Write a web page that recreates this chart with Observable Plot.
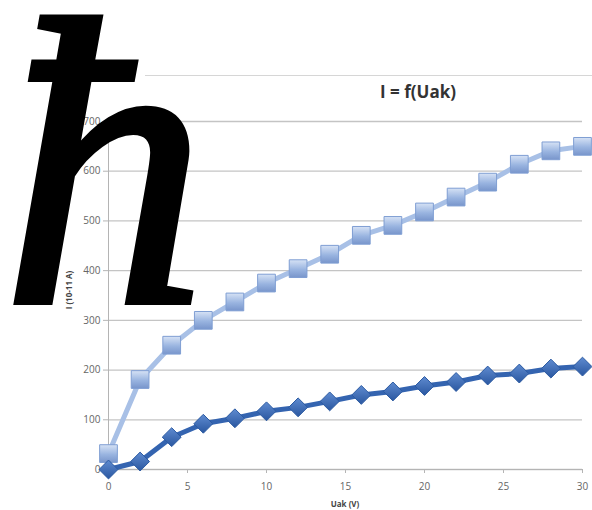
<!DOCTYPE html>
<html><head><meta charset="utf-8">
<script src="https://cdn.jsdelivr.net/npm/d3@7"></script>
<script src="https://cdn.jsdelivr.net/npm/@observablehq/plot@0.6"></script>
<style>
body{margin:0;background:#fff;}
#wrap{position:relative;width:592px;height:510px;overflow:hidden;font-family:"Open Sans",sans-serif;}
#border{position:absolute;left:145px;top:75px;width:447px;height:0;border-top:1px solid #d6d6d6;}
#title{position:absolute;left:338px;width:160px;top:80px;text-align:center;font:bold 17px "Open Sans",sans-serif;color:#333;}
#ylab{position:absolute;left:68px;top:290px;transform:translate(-50%,-50%) rotate(-90deg);white-space:nowrap;font:bold 8px "Open Sans",sans-serif;color:#444;}
#xlab{position:absolute;left:345px;top:503px;transform:translate(-50%,-50%);white-space:nowrap;font:bold 8px "Open Sans",sans-serif;color:#444;}
#hbar{position:absolute;left:2px;top:-41px;font:italic 410px/1 "Liberation Serif",serif;color:#000;-webkit-text-stroke:6px #000;z-index:5;}
#chart{position:absolute;left:0;top:0;}
</style></head><body>
<div id="wrap">
  <div id="border"></div>
  <div id="chart"></div>
  <div id="title">I = f(Uak)</div>
  <div id="ylab">I (10-11 A)</div>
  <div id="xlab">Uak (V)</div>
  <div id="hbar">ħ</div>
</div>
<script>
const voltages = [0, 2, 4, 6, 8, 10, 12, 14, 16, 18, 20, 22, 24, 26, 28, 30];
const currentUpper = [32, 181, 250, 300, 337, 375, 404, 433, 471, 491, 518, 548, 578, 614, 641, 650];
const currentLower = [0, 16, 65, 92, 103, 117, 125, 137, 150, 157, 168, 176, 189, 193, 203, 207];
const xTicks = [0, 5, 10, 15, 20, 25, 30];
const yTicks = [0, 100, 200, 300, 400, 500, 600, 700];

const upper = voltages.map((v, i) => ({u: v, i: currentUpper[i]}));
const lower = voltages.map((v, i) => ({u: v, i: currentLower[i]}));

const plot = Plot.plot({
  width: 592,
  height: 510,
  marginLeft: 108,
  marginRight: 10,
  marginTop: 121,
  marginBottom: 41,
  style: {fontFamily: "'Open Sans', sans-serif", fontSize: "10px", color: "#666", background: "transparent"},
  x: {domain: [0, 30], ticks: xTicks, tickSize: 4, tickPadding: 9, label: null},
  y: {domain: [0, 700], ticks: yTicks, tickSize: 5, tickPadding: 3, label: null},
  marks: [
    Plot.gridY(yTicks, {stroke: "#c4c4c4", strokeOpacity: 1, strokeWidth: 1.3}),
    Plot.ruleX([0], {stroke: "#b4b4b4"}),
    Plot.ruleY([0], {stroke: "#b4b4b4"}),
    Plot.line(upper, {x: "u", y: "i", stroke: "#a8c0e6", strokeWidth: 5}),
    Plot.line(lower, {x: "u", y: "i", stroke: "#3464b0", strokeWidth: 5}),
    Plot.dot(upper, {x: "u", y: "i", symbol: "square", r: 10, fill: "url(#gradSq)", stroke: "#7f9ed3", strokeWidth: 1}),
    Plot.dot(lower, {x: "u", y: "i", symbol: "diamond2", r: 8.5, fill: "url(#gradDi)", stroke: "#2b5aa2", strokeWidth: 1})
  ]
});

const defs = d3.select(plot).insert("defs", ":first-child");
const g1 = defs.append("linearGradient").attr("id", "gradSq").attr("x1", 0).attr("y1", 0).attr("x2", 0).attr("y2", 1);
g1.append("stop").attr("offset", "0%").attr("stop-color", "#d6e2f5");
g1.append("stop").attr("offset", "55%").attr("stop-color", "#99b4e0");
g1.append("stop").attr("offset", "100%").attr("stop-color", "#7895cb");
const g2 = defs.append("linearGradient").attr("id", "gradDi").attr("x1", 0).attr("y1", 0).attr("x2", 0).attr("y2", 1);
g2.append("stop").attr("offset", "0%").attr("stop-color", "#5f8bd0");
g2.append("stop").attr("offset", "100%").attr("stop-color", "#2a57a0");

d3.select(plot).selectAll("[aria-label='y-axis tick'] path, [aria-label='x-axis tick'] path").attr("stroke", "#b4b4b4");
document.getElementById("chart").appendChild(plot);
</script>
</body></html>
